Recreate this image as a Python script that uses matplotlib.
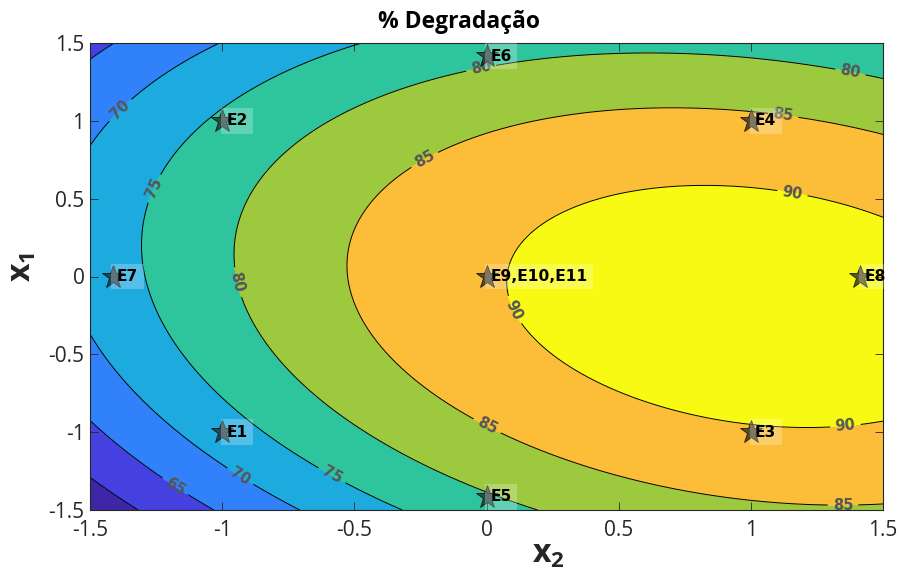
import numpy as np
import matplotlib
matplotlib.use("Agg")
import matplotlib.pyplot as plt

# Second-order response model for degradation (coded variables x1, x2)
b0 = 89.5
b1, b2 = -0.20, 6.74
b11, b22 = -5.1, -3.47
b12 = -1.73

# Contour levels and fill colours (parula-like)
levels = [50, 60, 65, 70, 75, 80, 85, 90, 100]
fill_colors = ["#3E27A6", "#4540E0", "#3181FB", "#1DAADF",
               "#2EC49E", "#9DC93F", "#FCBE38", "#F8FA14"]

# Central composite design runs (x2, x1) and their labels
run_x2 = [-1, -1, 1, 1, 0, 0, -1.414, 1.414, 0]
run_x1 = [-1, 1, -1, 1, -1.414, 1.414, 0, 0, 0]
run_labels = ["E1", "E2", "E3", "E4", "E5", "E6", "E7", "E8", "E9,E10,E11"]

# Where each contour label sits (x2, x1)
label_spots = [(-1.386, 1.07), (-1.262, 0.569), (-0.948, -0.04), (-0.24, 0.768),
               (-0.024, 1.37), (1.376, 1.31), (1.122, 1.025), (1.156, 0.524),
               (0.082, -0.234), (1.357, -0.94), (-0.009, -0.998), (1.349, -1.454),
               (-0.592, -1.30), (-0.94, -1.307), (-1.186, -1.371)]

plt.rcParams["mathtext.fontset"] = "custom"
plt.rcParams["mathtext.rm"] = "Open Sans:bold"
plt.rcParams["mathtext.it"] = "Open Sans:bold"
plt.rcParams["mathtext.bf"] = "Open Sans:bold"


def response(x2, x1):
    return (b0 + b1 * x1 + b2 * x2 + b11 * x1 ** 2 + b22 * x2 ** 2
            + b12 * x1 * x2)


g2 = np.linspace(-1.5, 1.5, 400)
g1 = np.linspace(-1.5, 1.5, 400)
X2, X1 = np.meshgrid(g2, g1)
Z = response(X2, X1)

fig = plt.figure(figsize=(9.02, 5.74), dpi=100)
ax = fig.add_axes([90 / 902, 1 - 510 / 574, (883 - 90) / 902, (510 - 43) / 574])

ax.contourf(X2, X1, Z, levels=levels, colors=fill_colors)
cs = ax.contour(X2, X1, Z, levels=levels[1:-1], colors="black", linewidths=0.7)
lbls = ax.clabel(cs, fmt="%d", fontsize=10.5, colors="#555555", inline=True,
                 inline_spacing=6, manual=label_spots)
for t in lbls:
    t.set_fontweight("bold")
    t.set_family("DejaVu Sans")

for x2, x1, name in zip(run_x2, run_x1, run_labels):
    ax.plot(x2, x1, marker="*", markersize=17, color="#2a2a2a",
            markeredgecolor="black", markeredgewidth=0.6, alpha=0.78, zorder=5)
    ax.annotate(name, (x2, x1), xytext=(3, 0), textcoords="offset points",
                ha="left", va="center", fontsize=11.2, fontweight="bold",
                family="DejaVu Sans", color="black", zorder=6,
                bbox=dict(boxstyle="square,pad=0.35", facecolor="white",
                          alpha=0.25, edgecolor="none"))

ax.set_xlim(-1.5, 1.5)
ax.set_ylim(-1.5, 1.5)
ticks = [-1.5, -1, -0.5, 0, 0.5, 1, 1.5]
tick_text = ["-1.5", "-1", "-0.5", "0", "0.5", "1", "1.5"]
ax.set_xticks(ticks, tick_text)
ax.set_yticks(ticks, tick_text)
ax.tick_params(direction="in", length=6, width=0.6, top=True, right=True,
               labelsize=15, colors="#262626", pad=4)
ax.tick_params(axis="x", pad=7)
for lab in ax.get_xticklabels() + ax.get_yticklabels():
    lab.set_family("Open Sans")
for s in ax.spines.values():
    s.set_color("#262626")
    s.set_linewidth(0.8)

ax.set_xlabel(r"$\mathrm{x_2}$", fontsize=23, color="#262626")
ax.set_ylabel(r"$\mathrm{x_1}$", fontsize=23, color="#262626")
ax.xaxis.set_label_coords(0.578, -0.062)
ax.yaxis.set_label_coords(-0.065, 0.52)
fig.text(459 / 902, 1 - 22 / 574, "% Degradação", fontsize=16.5,
         fontweight="bold", family="Open Sans", ha="center", va="center")

fig.savefig("out.png", dpi=100)
